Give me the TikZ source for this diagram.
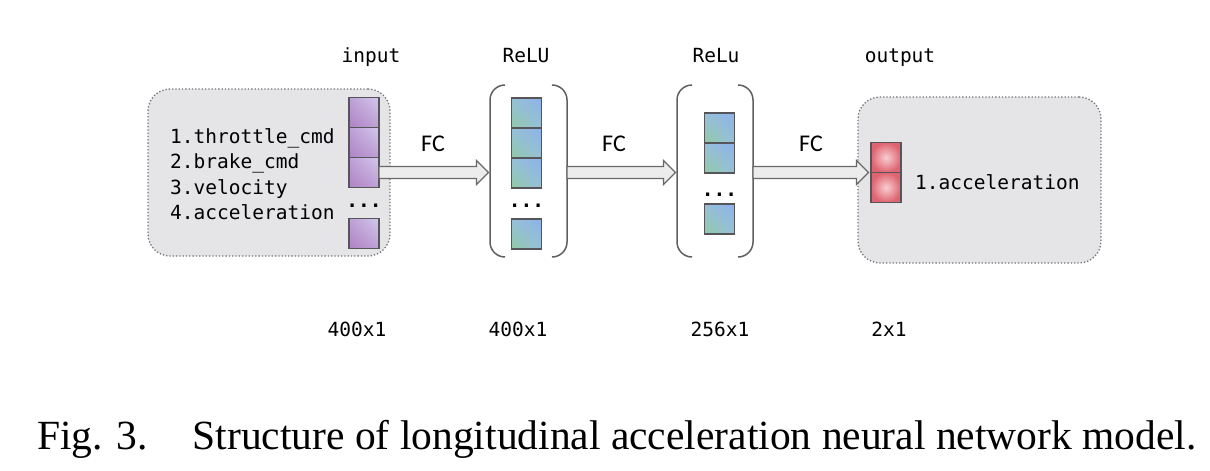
\documentclass[tikz,border=0pt]{standalone}
\usepackage{fontspec}
\setmainfont{Liberation Serif}
\setmonofont{DejaVu Sans Mono}
\newfontfamily\fcfont{Carlito}
\usetikzlibrary{positioning,shadings}

\definecolor{boxgray}{RGB}{229,229,232}
\definecolor{dotgray}{RGB}{115,115,120}
\definecolor{cellline}{RGB}{85,85,90}
\definecolor{purpleA}{RGB}{175,130,195}
\definecolor{purpleB}{RGB}{210,200,236}
\definecolor{purpleC}{RGB}{190,160,214}
\definecolor{blueA}{RGB}{145,202,165}
\definecolor{blueB}{RGB}{140,178,234}
\definecolor{blueC}{RGB}{152,192,218}
\definecolor{redA}{RGB}{250,205,210}
\definecolor{redB}{RGB}{222,100,112}
\definecolor{arrowfill}{RGB}{236,236,236}
\definecolor{arrowline}{RGB}{105,105,105}
\definecolor{brackline}{RGB}{95,95,95}

\tikzset{
  layerbox/.style={draw=dotgray, dotted, line width=1.3pt, fill=boxgray,
    rounded corners=22pt, inner sep=0pt},
  layerframe/.style={inner sep=0pt, outer sep=0pt, minimum height=172pt},
  bracket/.style={draw=brackline, line width=1.5pt, rounded corners=15pt},
  cell/.style={draw=cellline, line width=1.1pt, minimum width=30pt,
    minimum height=30pt, inner sep=0pt, outer sep=0pt},
  incell/.style={cell, lower left=purpleA, upper left=purpleC,
    lower right=purpleC, upper right=purpleB},
  hidcell/.style={cell, lower left=blueA, upper left=blueC,
    lower right=blueC, upper right=blueB},
  outcell/.style={cell, inner color=redA, outer color=redB},
  mono/.style={font=\fontsize{19.5}{24}\selectfont\ttfamily, text=black,
    inner sep=0pt},
  dots/.style={mono, font=\fontsize{19.5}{24}\selectfont\ttfamily\bfseries,
    anchor=base},
  fclabel/.style={font=\fontsize{24}{28}\selectfont\fcfont, text=black,
    inner sep=0pt, anchor=base},
  fcarrow/.style={draw=arrowline, fill=arrowfill, line width=1.1pt,
    line join=miter,
    to path={([yshift=6pt]\tikztostart) -- ([xshift=-12pt,yshift=6pt]\tikztotarget)
      -- ([xshift=-12pt,yshift=12pt]\tikztotarget) -- (\tikztotarget)
      -- ([xshift=-12pt,yshift=-12pt]\tikztotarget)
      -- ([xshift=-12pt,yshift=-6pt]\tikztotarget)
      -- ([yshift=-6pt]\tikztostart) -- cycle}},
}

\begin{document}
\begin{tikzpicture}[x=1pt,y=-1pt]
\useasboundingbox (0,0) rectangle (1210,471);

% grey boxes of input and output
\node[layerbox, minimum width=242pt, minimum height=167pt] (inbox) at (269,172.5) {};
\node[layerbox, minimum width=243pt, minimum height=166pt] (outbox) at (979.5,180) {};

% input layer
\node[incell] (in1) at (364,112.5) {};
\node[incell, below=0pt of in1] (in2) {};
\node[incell, below=0pt of in2] (in3) {};
\node[dots] (indots) at (364,207.5) {...};
\node[incell] (in4) at (364,233.5) {};

\node[mono, anchor=base west] (item1) at (170,143.5) {1.throttle\_cmd};
\node[mono, anchor=base west] (item2) at (170,168.8) {2.brake\_cmd};
\node[mono, anchor=base west] (item3) at (170,194) {3.velocity};
\node[mono, anchor=base west] (item4) at (170,219.5) {4.acceleration};

% first hidden layer
\node[layerframe, minimum width=77pt] (relu1) at (528.5,171) {};
\draw[bracket] ([xshift=15pt]relu1.north west) -- (relu1.north west)
  -- (relu1.south west) -- ([xshift=15pt]relu1.south west);
\draw[bracket] ([xshift=-15pt]relu1.north east) -- (relu1.north east)
  -- (relu1.south east) -- ([xshift=-15pt]relu1.south east);
\node[hidcell] (h1) at (526.5,113) {};
\node[hidcell, below=0pt of h1] (h2) {};
\node[hidcell, below=0pt of h2] (h3) {};
\node[dots] (hdots) at (526.5,207.5) {...};
\node[hidcell] (h4) at (526.5,234) {};

% second hidden layer
\node[layerframe, minimum width=76pt] (relu2) at (715,171) {};
\draw[bracket] ([xshift=15pt]relu2.north west) -- (relu2.north west)
  -- (relu2.south west) -- ([xshift=15pt]relu2.south west);
\draw[bracket] ([xshift=-15pt]relu2.north east) -- (relu2.north east)
  -- (relu2.south east) -- ([xshift=-15pt]relu2.south east);
\node[hidcell] (g1) at (719.5,128) {};
\node[hidcell, below=0pt of g1] (g2) {};
\node[dots] (gdots) at (719.5,196.5) {...};
\node[hidcell] (g3) at (719.5,219) {};

% output layer
\node[outcell] (oc1) at (886,157.5) {};
\node[outcell, below=0pt of oc1] (oc2) {};
\node[mono, anchor=base west] (outitem) at (915,189) {1.acceleration};

% fully connected arrows
\coordinate (fc1e) at ([xshift=-1.5pt]in3.east -| relu1.west);
\coordinate (fc2s) at (relu1.east |- in3.east);
\coordinate (fc2e) at ([xshift=-1.5pt]in3.east -| relu2.west);
\coordinate (fc3s) at (relu2.east |- in3.east);
\coordinate (fc3e) at ([xshift=-2.5pt]oc1.south west);
\draw[fcarrow] (in3.east) to (fc1e);
\draw[fcarrow] (fc2s) to (fc2e);
\draw[fcarrow] (fc3s) to (fc3e);
\node[fclabel] (fc1) at (433,151) {FC};
\node[fclabel] (fc2) at (614,151) {FC};
\node[fclabel] (fc3) at (811,151) {FC};

% layer names
\node[mono, anchor=base] (inname) at (371,62) {input};
\node[mono, anchor=base] (relu1name) at (526,62) {ReLU};
\node[mono, anchor=base] (relu2name) at (716,62) {ReLu};
\node[mono, anchor=base] (outname) at (900,62) {output};

% layer sizes
\node[mono, anchor=base] (insize) at (357,336) {400x1};
\node[mono, anchor=base] (relu1size) at (518,336) {400x1};
\node[mono, anchor=base] (relu2size) at (720,336) {256x1};
\node[mono, anchor=base] (outsize) at (889,336) {2x1};

% caption
\node[font=\fontsize{41.5}{48}\selectfont, anchor=base west, inner sep=0pt]
  (caption) at (37,449)
  {Fig. 3.\hspace{1.08em}Structure of longitudinal acceleration neural network model.};
\end{tikzpicture}
\end{document}
